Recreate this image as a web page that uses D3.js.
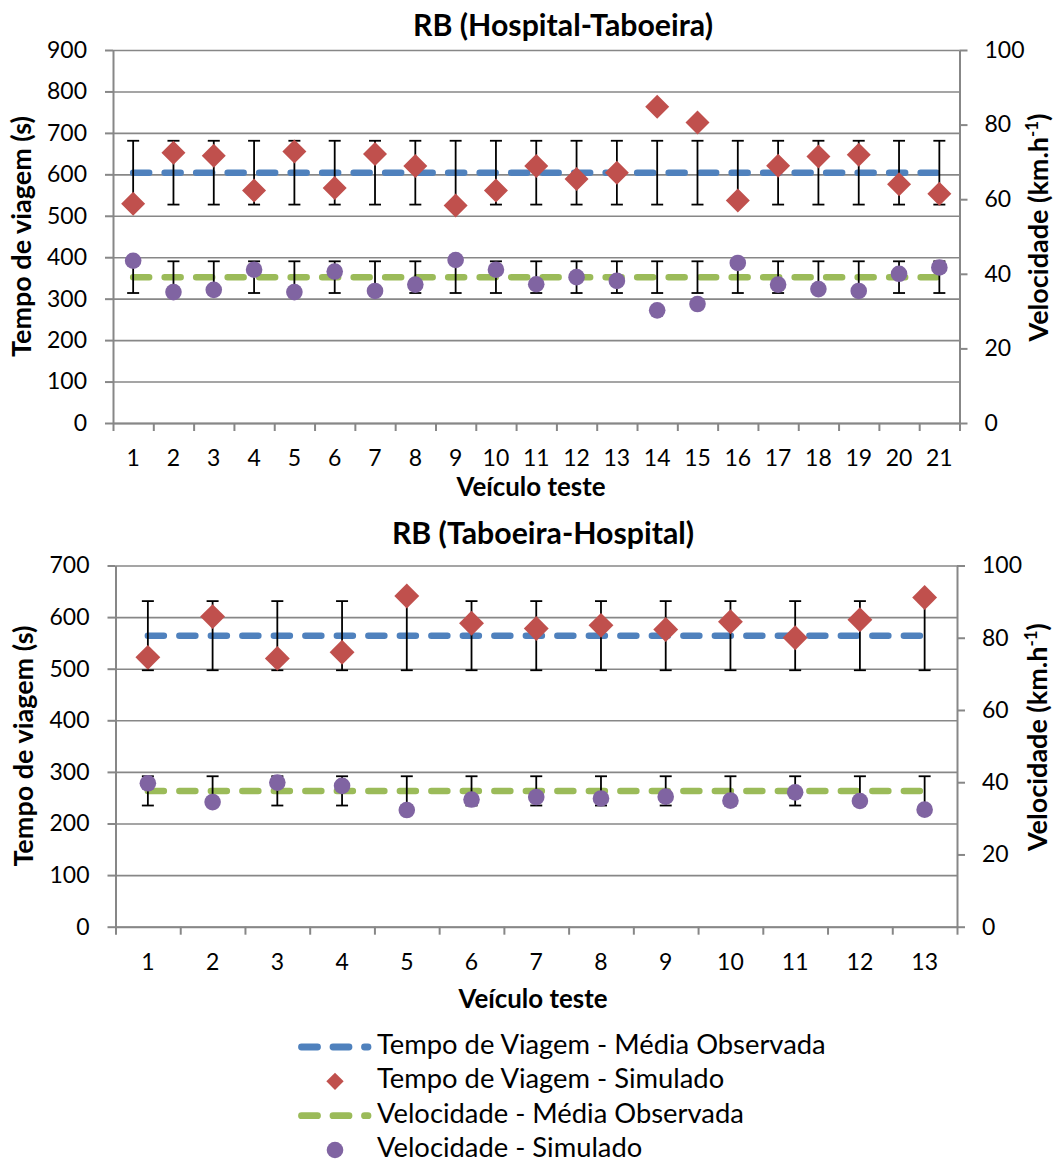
<!DOCTYPE html>
<html><head><meta charset="utf-8">
<script src="https://cdn.jsdelivr.net/npm/d3@7"></script>
<style>html,body{margin:0;padding:0;background:#fff}</style>
</head><body>
<svg id="chart" width="1056" height="1163"></svg>
<script>
// ---------------- DATA ----------------
const topTitle = "RB (Hospital-Taboeira)";
const topCategories = ["1","2","3","4","5","6","7","8","9","10","11","12","13","14","15","16","17","18","19","20","21"];
const topTempoSimulado = [529,652,645,561,655,567,649,620,525,561,620,589,604,763,725,537,621,643,647,576,553];
const topVelocidadeSimulada = [43.5,35.1,35.7,41.1,35.1,40.6,35.4,37.1,43.7,41.1,37.2,39.1,38.1,30.2,31.9,42.9,37.1,35.9,35.4,40.0,41.7];
const topTempoMedia = 604;
const topTempoErro = 77;
const topVelocidadeMedia = 39.1;
const topVelocidadeErro = 4.25;
const topTempoTicks = [0,100,200,300,400,500,600,700,800,900];
const topVelocidadeTicks = [0,20,40,60,80,100];

const bottomTitle = "RB (Taboeira-Hospital)";
const bottomCategories = ["1","2","3","4","5","6","7","8","9","10","11","12","13"];
const bottomTempoSimulado = [522,601,520,532,641,588,578,584,576,591,560,595,638];
const bottomVelocidadeSimulada = [39.7,34.5,39.9,39.0,32.3,35.2,35.9,35.5,36.0,34.9,37.2,34.8,32.4];
const bottomTempoMedia = 564;
const bottomTempoErro = 67;
const bottomVelocidadeMedia = 37.6;
const bottomVelocidadeErro = 4.05;
const bottomTempoTicks = [0,100,200,300,400,500,600,700];
const bottomVelocidadeTicks = [0,20,40,60,80,100];

const xAxisTitle = "Veículo teste";
const yLeftTitle = "Tempo de viagem (s)";
const yRightTitle = ["Velocidade (km.h", "-1", ")"];
const legendLabels = ["Tempo de Viagem - Média Observada","Tempo de Viagem - Simulado","Velocidade - Média Observada","Velocidade - Simulado"];

// ---------------- STYLE ----------------
const FONT = "Lato, 'Open Sans', sans-serif";
const C_BLUE = "#4F81BD", C_RED = "#C0504D", C_GREEN = "#9BBB59", C_PURPLE = "#8064A2";
const C_GRID = "#878787";

const svg = d3.select("#chart");
svg.append("rect").attr("width",1056).attr("height",1163).attr("fill","#fff");

function fitSize(text, weight, target) {
  const t = svg.append("text").attr("font-family", FONT).attr("font-weight", weight)
    .attr("font-size", 100).text(text);
  const w = t.node().getComputedTextLength();
  t.remove();
  return 100 * target / w;
}
const tickFs = fitSize("100", "normal", 40);
const legendFs = fitSize(legendLabels[0], "normal", 449);
const titleFs = fitSize(topTitle, "bold", 300);
const xTitleFs = fitSize(xAxisTitle, "bold", 149);
const yTitleFs = fitSize(yLeftTitle, "bold", 241);

function drawPanel(cfg, L) {
  const g = svg.append("g");
  const x = d3.scaleBand().domain(cfg.categories).range([L.left, L.right]).padding(0);
  const xb = d3.scaleLinear().domain([0, cfg.categories.length]).range([L.left, L.right]);
  const yL = d3.scaleLinear().domain([0, d3.max(cfg.leftTicks)]).range([L.bottom, L.top]);
  const yR = d3.scaleLinear().domain([0, d3.max(cfg.rightTicks)]).range([L.bottom, L.top]);
  const cx = c => x(c) + x.bandwidth() / 2;

  // gridlines
  const grid = g.append("g").attr("transform", `translate(${L.left},0)`)
    .call(d3.axisLeft(yL).tickValues(cfg.leftTicks).tickSize(-(L.right - L.left)).tickFormat(""));
  grid.select(".domain").remove();
  grid.selectAll("line").attr("stroke", C_GRID).attr("stroke-width", 1.6);

  // left axis
  const ax = g.append("g").attr("transform", `translate(${L.left},0)`)
    .call(d3.axisLeft(yL).tickValues(cfg.leftTicks).tickSize(8).tickSizeOuter(0).tickPadding(18));
  ax.select(".domain").attr("stroke", C_GRID).attr("stroke-width", 2);
  ax.selectAll("line").attr("stroke", C_GRID).attr("stroke-width", 2);
  ax.selectAll("text").attr("font-family", FONT).attr("font-size", tickFs).attr("fill", "#000");

  // right axis
  const ar = g.append("g").attr("transform", `translate(${L.right},0)`)
    .call(d3.axisRight(yR).tickValues(cfg.rightTicks).tickSize(8).tickSizeOuter(0).tickPadding(17));
  ar.select(".domain").attr("stroke", C_GRID).attr("stroke-width", 2);
  ar.selectAll("line").attr("stroke", C_GRID).attr("stroke-width", 2);
  ar.selectAll("text").attr("font-family", FONT).attr("font-size", tickFs).attr("fill", "#000");

  // bottom axis: boundary ticks
  const abt = g.append("g").attr("transform", `translate(0,${L.bottom})`)
    .call(d3.axisBottom(xb).tickValues(d3.range(cfg.categories.length + 1)).tickSize(8).tickSizeOuter(0).tickFormat(""));
  abt.select(".domain").attr("stroke", C_GRID).attr("stroke-width", 2);
  abt.selectAll("line").attr("stroke", C_GRID).attr("stroke-width", 2);
  // category labels
  const abl = g.append("g").attr("transform", `translate(0,${L.bottom})`)
    .call(d3.axisBottom(x).tickSize(0).tickPadding(43 - 0.71 * tickFs));
  abl.select(".domain").remove();
  abl.selectAll("text").attr("font-family", FONT).attr("font-size", tickFs).attr("fill", "#000");

  // titles
  g.append("text").attr("x", L.titleX).attr("y", L.titleY).attr("text-anchor", "middle")
    .attr("font-family", FONT).attr("font-weight", "bold").attr("font-size", titleFs).text(cfg.title);
  g.append("text").attr("x", L.xTitleX).attr("y", L.xTitleY).attr("text-anchor", "middle")
    .attr("font-family", FONT).attr("font-weight", "bold").attr("font-size", xTitleFs).text(xAxisTitle);
  const midY = (L.top + L.bottom) / 2;
  g.append("text").attr("transform", `translate(${L.yLeftX},${midY}) rotate(-90)`).attr("text-anchor", "middle")
    .attr("font-family", FONT).attr("font-weight", "bold").attr("font-size", yTitleFs).text(yLeftTitle);
  const rt = g.append("text").attr("transform", `translate(${L.yRightX},${midY - 9}) rotate(-90)`).attr("text-anchor", "middle")
    .attr("font-family", FONT).attr("font-weight", "bold").attr("font-size", yTitleFs);
  rt.append("tspan").text(yRightTitle[0]);
  rt.append("tspan").attr("font-size", yTitleFs * 0.62).attr("dy", -yTitleFs * 0.38).text(yRightTitle[1]);
  rt.append("tspan").attr("dy", yTitleFs * 0.38).text(yRightTitle[2]);

  // mean lines
  const lineL = d3.line().x(d => cx(d)).y(() => yL(cfg.tempoMedia));
  const lineR = d3.line().x(d => cx(d)).y(() => yR(cfg.velMedia));
  g.append("path").attr("d", lineL(cfg.categories)).attr("fill", "none").attr("stroke", C_BLUE)
    .attr("stroke-width", 6.5).attr("stroke-linecap", "round").attr("stroke-dasharray", "16 15.5");
  g.append("path").attr("d", lineR(cfg.categories)).attr("fill", "none").attr("stroke", C_GREEN)
    .attr("stroke-width", 6.5).attr("stroke-linecap", "round").attr("stroke-dasharray", "16 15.5");

  // error bars
  function errBars(scale, mean, err) {
    const eb = g.append("g").attr("stroke", "#000").attr("stroke-width", 1.8);
    cfg.categories.forEach(c => {
      const xc = cx(c), y1 = scale(mean + err), y0 = scale(mean - err);
      eb.append("line").attr("x1", xc).attr("x2", xc).attr("y1", y1).attr("y2", y0);
      eb.append("line").attr("x1", xc - 6).attr("x2", xc + 6).attr("y1", y1).attr("y2", y1);
      eb.append("line").attr("x1", xc - 6).attr("x2", xc + 6).attr("y1", y0).attr("y2", y0);
    });
  }
  errBars(yL, cfg.tempoMedia, cfg.tempoErro);
  errBars(yR, cfg.velMedia, cfg.velErro);

  // simulated markers
  const diamond = d3.symbol().type(d3.symbolSquare).size(L.diamondSize);
  g.append("g").selectAll("path").data(cfg.tempoSim).join("path")
    .attr("d", diamond)
    .attr("transform", (d, i) => `translate(${cx(cfg.categories[i])},${yL(d)}) rotate(45)`)
    .attr("fill", C_RED);
  g.append("g").selectAll("circle").data(cfg.velSim).join("circle")
    .attr("cx", (d, i) => cx(cfg.categories[i])).attr("cy", d => yR(d)).attr("r", 8.3)
    .attr("fill", C_PURPLE);
}

drawPanel({
  title: topTitle, categories: topCategories, tempoSim: topTempoSimulado, velSim: topVelocidadeSimulada,
  tempoMedia: topTempoMedia, tempoErro: topTempoErro, velMedia: topVelocidadeMedia, velErro: topVelocidadeErro,
  leftTicks: topTempoTicks, rightTicks: topVelocidadeTicks
}, {left: 113, right: 959.5, top: 50, bottom: 423, titleX: 563, titleY: 36, xTitleX: 531, xTitleY: 496,
    yLeftX: 31, yRightX: 1048, diamondSize: 288});

drawPanel({
  title: bottomTitle, categories: bottomCategories, tempoSim: bottomTempoSimulado, velSim: bottomVelocidadeSimulada,
  tempoMedia: bottomTempoMedia, tempoErro: bottomTempoErro, velMedia: bottomVelocidadeMedia, velErro: bottomVelocidadeErro,
  leftTicks: bottomTempoTicks, rightTicks: bottomVelocidadeTicks
}, {left: 115.5, right: 957, top: 565.5, bottom: 926.7, titleX: 543, titleY: 544, xTitleX: 533, xTitleY: 1008,
    yLeftX: 33, yRightX: 1047, diamondSize: 310});

// ---------------- LEGEND ----------------
const legendRows = [
  {label: legendLabels[0], type: "line", color: C_BLUE},
  {label: legendLabels[1], type: "diamond", color: C_RED},
  {label: legendLabels[2], type: "line", color: C_GREEN},
  {label: legendLabels[3], type: "circle", color: C_PURPLE}
];
const ly = d3.scalePoint().domain(d3.range(legendRows.length)).range([1047, 1150]);
const lg = svg.append("g");
legendRows.forEach((r, i) => {
  const yc = ly(i);
  if (r.type === "line") {
    lg.append("line").attr("x1", 301.5).attr("x2", 368).attr("y1", yc).attr("y2", yc)
      .attr("stroke", r.color).attr("stroke-width", 6.8).attr("stroke-linecap", "round").attr("stroke-dasharray", "16 15.5");
  } else if (r.type === "diamond") {
    lg.append("path").attr("d", d3.symbol().type(d3.symbolSquare).size(150)())
      .attr("transform", `translate(335,${yc}) rotate(45)`).attr("fill", r.color);
  } else {
    lg.append("circle").attr("cx", 335).attr("cy", yc).attr("r", 8.3).attr("fill", r.color);
  }
  lg.append("text").attr("x", 377).attr("y", yc + 7).attr("font-family", FONT).attr("font-size", legendFs)
    .attr("fill", "#000").text(r.label);
});
</script>
</body></html>
